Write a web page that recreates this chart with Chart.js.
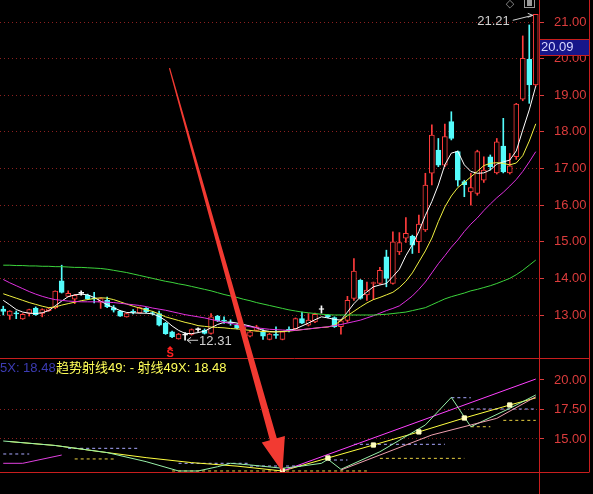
<!DOCTYPE html>
<html>
<head>
<meta charset="utf-8">
<script src="https://cdn.jsdelivr.net/npm/chart.js@4.4.1/dist/chart.umd.min.js"></script>
<style>
  html, body { margin: 0; padding: 0; background: #000; overflow: hidden; }
  #wrap { width: 593px; height: 494px; position: relative; }
  canvas { display: block; }
</style>
</head>
<body>
<div id="wrap"><canvas id="kline" width="593" height="494"></canvas></div>
<script>
// ---- daily bars (83 sessions) ----
const sessions = Array.from({ length: 83 }, (_, i) => 'D' + (i + 1));

const openPx = [
  13.16, 12.99, 13.06, 12.89, 13.04, 13.19, 13.04, 13.12, 13.19, 13.93,
  13.51, 13.43, 13.59, 13.54, 13.47, 13.35, 13.40, 13.20, 13.11, 12.95,
  13.10, 13.06, 13.18, 13.06, 13.04, 12.78, 12.54, 12.35, 12.45, 12.47,
  12.60, 12.58, 12.50, 12.97, 12.86, 12.79, 12.72, 12.62, 12.42, 12.58,
  12.54, 12.33, 12.47, 12.33, 12.61, 12.63, 12.90, 12.72, 12.81, 13.15,
  13.00, 12.93, 12.68, 12.85, 13.45, 13.95, 13.55, 13.86, 13.86, 14.59,
  13.86, 14.72, 15.10, 15.15, 15.00, 15.32, 16.87, 17.50, 17.09, 18.28,
  17.46, 16.64, 16.36, 16.32, 16.68, 17.32, 16.88, 17.61, 16.88, 17.32,
  18.89, 19.98, 19.28
];
const highPx = [
  13.24, 13.12, 13.11, 13.04, 13.16, 13.22, 13.17, 13.19, 13.66, 14.36,
  13.66, 13.56, 13.66, 13.57, 13.62, 13.47, 13.49, 13.26, 13.13, 13.06,
  13.15, 13.22, 13.20, 13.10, 13.11, 12.80, 12.56, 12.50, 12.52, 12.62,
  12.65, 12.62, 13.04, 12.99, 12.95, 12.87, 12.75, 12.72, 12.56, 12.72,
  12.60, 12.50, 12.68, 12.56, 12.68, 12.92, 13.08, 13.04, 13.05, 13.25,
  13.02, 12.95, 12.88, 13.51, 14.54, 13.97, 13.90, 13.90, 14.30, 14.77,
  15.27, 15.25, 15.66, 15.18, 15.73, 16.87, 18.19, 17.82, 18.21, 18.55,
  17.48, 16.68, 16.87, 17.50, 17.32, 17.37, 17.82, 18.37, 17.41, 18.78,
  20.62, 20.92, 21.21
];
const lowPx = [
  13.00, 12.88, 12.90, 12.88, 12.97, 12.99, 12.95, 13.10, 13.17, 13.60,
  13.50, 13.31, 13.54, 13.42, 13.33, 13.18, 13.20, 13.08, 12.96, 12.94,
  13.03, 13.05, 13.06, 13.00, 12.70, 12.47, 12.38, 12.34, 12.31, 12.45,
  12.55, 12.48, 12.48, 12.82, 12.77, 12.72, 12.62, 12.58, 12.40, 12.56,
  12.33, 12.32, 12.36, 12.32, 12.54, 12.61, 12.76, 12.70, 12.79, 13.05,
  12.92, 12.66, 12.48, 12.80, 13.40, 13.43, 13.40, 13.42, 13.84, 13.77,
  13.84, 14.65, 14.98, 14.68, 14.70, 15.28, 16.55, 17.05, 17.05, 17.78,
  16.52, 16.23, 16.00, 16.27, 16.62, 16.96, 16.85, 16.88, 16.85, 17.25,
  18.85, 18.78, 19.25
];
const closePx = [
  13.10, 13.11, 13.03, 13.02, 13.15, 13.01, 13.15, 13.17, 13.65, 13.62,
  13.59, 13.54, 13.59, 13.44, 13.44, 13.45, 13.22, 13.13, 12.97, 13.04,
  13.07, 13.20, 13.09, 13.04, 12.72, 12.49, 12.40, 12.48, 12.45, 12.60,
  12.60, 12.50, 12.95, 12.84, 12.83, 12.77, 12.64, 12.68, 12.54, 12.68,
  12.42, 12.48, 12.44, 12.54, 12.58, 12.90, 12.78, 12.86, 13.02, 13.15,
  12.95, 12.68, 12.84, 13.40, 14.20, 13.45, 13.68, 13.87, 14.22, 14.00,
  15.00, 14.98, 15.23, 14.91, 15.48, 16.55, 17.91, 17.09, 17.87, 17.82,
  16.68, 16.56, 16.48, 17.46, 16.96, 17.05, 17.73, 16.91, 17.07, 18.76,
  20.01, 19.28, 21.21
];

// ---- moving averages on the price pane ----
const ma5 = [
  13.40, 13.28, 13.15, 13.08, 13.05, 13.04, 13.06, 13.12, 13.25, 13.38,
  13.50, 13.55, 13.57, 13.55, 13.48, 13.38, 13.28, 13.20, 13.12, 13.07,
  13.06, 13.05, 13.05, 13.03, 12.96, 12.85, 12.70, 12.58, 12.50, 12.49,
  12.52, 12.56, 12.65, 12.74, 12.80, 12.81, 12.78, 12.74, 12.70, 12.65,
  12.58, 12.55, 12.54, 12.55, 12.58, 12.62, 12.70, 12.78, 12.87, 12.95,
  12.92, 12.88, 12.86, 13.08, 13.31, 13.49, 13.63, 13.77, 13.82, 13.86,
  14.05, 14.25, 14.62, 14.92, 15.28, 15.72, 16.10, 16.55, 17.10, 17.42,
  17.47, 17.10, 16.92, 16.87, 16.88, 16.96, 17.12, 17.18, 17.23, 17.48,
  18.05, 18.60, 19.25
];
const ma10 = [
  13.58, 13.52, 13.46, 13.40, 13.34, 13.29, 13.24, 13.20, 13.22, 13.27,
  13.31, 13.35, 13.39, 13.42, 13.45, 13.47, 13.46, 13.42, 13.36, 13.30,
  13.24, 13.19, 13.14, 13.10, 13.03, 12.95, 12.90, 12.85, 12.80, 12.76,
  12.71, 12.69, 12.67, 12.66, 12.65, 12.63, 12.62, 12.60, 12.58, 12.56,
  12.55, 12.54, 12.54, 12.55, 12.56, 12.58, 12.60, 12.62, 12.64, 12.66,
  12.67, 12.72, 12.85, 12.98, 13.10, 13.22, 13.33, 13.42, 13.48, 13.55,
  13.62, 13.75, 13.92, 14.15, 14.45, 14.75, 15.10, 15.55, 15.95, 16.25,
  16.48, 16.62, 16.77, 16.92, 17.08, 17.14, 17.16, 17.14, 17.10, 17.15,
  17.35, 17.75, 18.22
];
const ma20 = [
  13.97, 13.88, 13.80, 13.72, 13.64, 13.57, 13.51, 13.46, 13.42, 13.40,
  13.38, 13.37, 13.36, 13.36, 13.36, 13.36, 13.35, 13.34, 13.32, 13.30,
  13.28, 13.26, 13.23, 13.19, 13.16, 13.13, 13.09, 13.05, 13.01, 12.98,
  12.95, 12.92, 12.88, 12.84, 12.80, 12.77, 12.74, 12.71, 12.68, 12.65,
  12.63, 12.61, 12.60, 12.59, 12.58, 12.58, 12.60, 12.62, 12.64, 12.66,
  12.68, 12.71, 12.74, 12.78, 12.82, 12.86, 12.92, 12.98, 13.05, 13.12,
  13.18, 13.25, 13.38, 13.52, 13.70, 13.90, 14.15, 14.40, 14.62, 14.85,
  15.05, 15.28, 15.48, 15.65, 15.85, 16.03, 16.20, 16.35, 16.52, 16.70,
  16.92, 17.18, 17.46
];
const ma60 = [
  14.36, 14.36, 14.35, 14.35, 14.34, 14.34, 14.33, 14.33, 14.32, 14.32,
  14.31, 14.30, 14.30, 14.29, 14.28, 14.27, 14.25, 14.22, 14.19, 14.16,
  14.12, 14.08, 14.04, 14.00, 13.96, 13.92, 13.89, 13.85, 13.82, 13.78,
  13.74, 13.70, 13.66, 13.61, 13.56, 13.52, 13.48, 13.43, 13.39, 13.34,
  13.30, 13.26, 13.22, 13.18, 13.14, 13.11, 13.08, 13.06, 13.04, 13.02,
  13.01, 13.00, 13.00, 13.00, 13.00, 13.00, 13.00, 13.00, 13.01, 13.02,
  13.04, 13.06, 13.08, 13.12, 13.16, 13.20, 13.28, 13.36, 13.44, 13.50,
  13.55, 13.60, 13.66, 13.70, 13.75, 13.80, 13.86, 13.93, 14.00, 14.10,
  14.22, 14.36, 14.50
];

// ---- trend-ray indicator pane: sparse pivot values, [session index, value] ----
const ray49 = [[1, 14.78], [8, 14.45], [15, 13.92], [22, 13.42], [29, 13.00], [36, 12.70],
               [43, 12.29], [50, 13.39], [57, 14.49], [64, 15.60], [71, 16.78], [78, 17.88], [82, 18.48]];
const rayPivots = [[43, 12.29], [50, 13.39], [57, 14.49], [64, 15.60], [71, 16.78], [78, 17.88]];
const ray49X = [[43, 12.29], [82, 20.08]];
const fastTrace = [[0, 14.83], [8, 14.45], [16, 13.85], [22, 13.08], [27, 12.29], [30, 12.29],
                   [33, 12.65], [35, 12.94], [38, 12.80], [43, 12.52], [46, 12.71], [49, 12.94],
                   [50, 13.28], [52, 12.43], [58, 13.92], [65, 16.19], [69, 18.53], [72, 16.04],
                   [78, 17.60], [82, 18.73]];
const slowTrace = [[52, 12.37], [58, 13.64], [66, 15.34], [72, 16.19], [76, 16.75], [82, 18.58]];
const leftTrace = [[0, 12.94], [3, 12.94], [9, 13.64]];
// horizontal reference levels: [from, to, value]
const blueLevels = [[0, 4, 13.73], [10, 21, 14.21], [27, 38, 12.94], [38, 46, 12.71],
                    [50, 53, 13.22], [54, 68, 14.55], [69, 72, 18.50], [72, 82, 17.54]];
const yellowLevels = [[11, 17, 13.31], [26, 56, 12.29], [58, 71, 13.36], [72, 75, 16.04], [77, 82, 16.58]];

const priceTicks = [13, 14, 15, 16, 17, 18, 19, 20, 21];
const rayTicks = [15, 17.5, 20];
const lastPrice = 20.09;
const rayHeader = '趋势射线49: - 射线49X: 18.48';
const rayHeaderLead = '5X: 18.48';

// ---- styling ----
const FONT = '"Liberation Sans", Arial, "Noto Sans CJK SC", sans-serif';
const UP = '#ff3c3c', DOWN = '#54fcfc', FLAT = '#ffffff';
const AXIS_RED = '#dc3c3c', FRAME_RED = '#c81e1e', GRID_RED = '#8c2020';

const dirColor = i => closePx[i] > openPx[i] ? UP : (closePx[i] < openPx[i] ? DOWN : FLAT);

function sparse(points) {
  const arr = new Array(sessions.length).fill(null);
  points.forEach(([i, v]) => { arr[i] = v; });
  return arr;
}
function lineSet(data, color, axis, extra) {
  return Object.assign({
    type: 'line', data, yAxisID: axis, borderColor: color, borderWidth: 1,
    pointRadius: 0, tension: 0, spanGaps: true, order: 0
  }, extra || {});
}

const datasets = [
  {
    type: 'bar', label: 'wick', yAxisID: 'y', order: 3, grouped: false,
    data: sessions.map((_, i) => [lowPx[i], highPx[i]]),
    backgroundColor: sessions.map((_, i) => dirColor(i)),
    barThickness: 1, borderWidth: 0, minBarLength: 1
  },
  {
    type: 'bar', label: 'body', yAxisID: 'y', order: 2, grouped: false,
    data: sessions.map((_, i) => [openPx[i], closePx[i]]),
    backgroundColor: sessions.map((_, i) => dirColor(i) === UP ? '#000000' : dirColor(i)),
    borderColor: sessions.map((_, i) => dirColor(i)),
    borderWidth: 1, borderSkipped: false, barThickness: 5, minBarLength: 1
  },
  lineSet(ma60, '#3cd43c', 'y'),
  lineSet(ma20, '#e030e0', 'y'),
  lineSet(ma10, '#f0f040', 'y'),
  lineSet(ma5, '#ffffff', 'y'),
  lineSet(sparse(leftTrace), '#e040e0', 'y2'),
  lineSet(sparse(slowTrace), '#f0a0b0', 'y2'),
  lineSet(sparse(fastTrace), '#98f0a8', 'y2'),
  lineSet(sparse(ray49X), '#ff40ff', 'y2'),
  lineSet(sparse(ray49), '#ffff40', 'y2'),
  lineSet(sparse(rayPivots), '#ffffb0', 'y2', {
    showLine: false, pointStyle: 'rect', pointRadius: 3,
    pointBackgroundColor: '#ffffc0', pointBorderColor: '#ffffc0', order: -1
  })
];
blueLevels.forEach(([a, b, v]) => datasets.push(
  lineSet(sparse([[a, v], [b, v]]), '#a8a8ff', 'y2', { borderDash: [3, 3], order: 1 })));
yellowLevels.forEach(([a, b, v]) => datasets.push(
  lineSet(sparse([[a, v], [b, v]]), '#e8d040', 'y2', { borderDash: [3, 3], order: 1 })));

// frame, price tag, annotations and the pointer arrow
const decorations = {
  id: 'decorations',
  afterDraw(chart) {
    const { ctx, chartArea: area, scales } = chart;
    const x = scales.x, y = scales.y, y2 = scales.y2;
    const W = chart.width, H = chart.height;
    ctx.save();

    // panel frame
    ctx.strokeStyle = FRAME_RED;
    ctx.lineWidth = 1;
    ctx.beginPath();
    ctx.moveTo(0, Math.round(y.bottom) + 0.5); ctx.lineTo(W - 4, Math.round(y.bottom) + 0.5);
    ctx.moveTo(0, Math.round(y2.bottom) + 0.5); ctx.lineTo(W - 4, Math.round(y2.bottom) + 0.5);
    ctx.moveTo(Math.round(area.right) + 0.5, 0); ctx.lineTo(Math.round(area.right) + 0.5, H);
    ctx.moveTo(W - 3.5, 0); ctx.lineTo(W - 3.5, Math.round(y2.bottom) + 0.5);
    ctx.stroke();

    // last price tag
    const py = y.getPixelForValue(lastPrice);
    ctx.fillStyle = '#16168a';
    ctx.fillRect(area.right + 1, py - 16, W - 4 - area.right - 1, 16);
    ctx.strokeStyle = FRAME_RED;
    ctx.beginPath();
    ctx.moveTo(area.right, Math.round(py - 16) + 0.5); ctx.lineTo(W - 3, Math.round(py - 16) + 0.5);
    ctx.moveTo(area.right, Math.round(py) + 0.5); ctx.lineTo(W - 3, Math.round(py) + 0.5);
    ctx.stroke();
    ctx.fillStyle = '#d8d8ff';
    ctx.font = '13px ' + FONT;
    ctx.textBaseline = 'middle';
    ctx.textAlign = 'left';
    ctx.fillText(lastPrice.toFixed(2), area.right + 2, py - 7.5);

    // high / low notes
    const hiIdx = highPx.indexOf(Math.max(...highPx));
    const loIdx = lowPx.indexOf(Math.min(...lowPx));
    ctx.strokeStyle = '#d0d0d0';
    ctx.fillStyle = '#d0d0d0';
    const hx = x.getPixelForValue(hiIdx), hy = y.getPixelForValue(highPx[hiIdx]);
    ctx.beginPath();
    ctx.moveTo(hx - 23, hy + 6); ctx.lineTo(hx - 3, hy + 1);
    ctx.moveTo(hx - 3, hy + 1); ctx.lineTo(hx - 8, hy - 1);
    ctx.moveTo(hx - 3, hy + 1); ctx.lineTo(hx - 8, hy + 3);
    ctx.stroke();
    ctx.textAlign = 'right';
    ctx.fillText(highPx[hiIdx].toFixed(2), hx - 26, hy + 7);

    const lx = x.getPixelForValue(loIdx), ly = y.getPixelForValue(lowPx[loIdx]);
    ctx.beginPath();
    ctx.moveTo(lx + 2, ly); ctx.lineTo(lx + 13, ly);
    ctx.moveTo(lx + 2, ly); ctx.lineTo(lx + 6, ly - 3);
    ctx.moveTo(lx + 2, ly); ctx.lineTo(lx + 6, ly + 3);
    ctx.stroke();
    ctx.textAlign = 'left';
    ctx.fillText(lowPx[loIdx].toFixed(2), lx + 14, ly + 1);

    // sell marker under the breakdown bar
    const sx = x.getPixelForValue(26);
    ctx.fillStyle = '#ff2020';
    ctx.font = 'bold 11px ' + FONT;
    ctx.textAlign = 'center';
    ctx.textBaseline = 'alphabetic';
    ctx.fillText('S', sx - 2, y.bottom - 1);
    ctx.beginPath();
    ctx.moveTo(sx - 2, y.bottom - 12); ctx.lineTo(sx - 5, y.bottom - 9); ctx.lineTo(sx + 1, y.bottom - 9);
    ctx.closePath(); ctx.fill();

    // toolbar glyphs
    ctx.fillStyle = '#9a9a9a';
    ctx.strokeStyle = '#9a9a9a';
    ctx.font = '11px "DejaVu Sans", sans-serif';
    ctx.textAlign = 'center';
    ctx.textBaseline = 'middle';
    ctx.fillText('◇', 510, 4);
    ctx.strokeRect(524.5, -2.5, 10, 10);
    ctx.fillRect(527, 0, 5, 6);

    // indicator header
    ctx.font = '13px ' + FONT;
    ctx.textAlign = 'left';
    ctx.textBaseline = 'middle';
    ctx.fillStyle = '#3c3cb4';
    ctx.fillText(rayHeaderLead, 0, y.bottom + 10);
    ctx.fillStyle = '#ffff58';
    ctx.fillText(rayHeader, 56, y.bottom + 10);

    // pointer arrow: from the price pane down to the ray pivot
    const s = { x: x.getPixelForValue(25.6), y: y.getPixelForValue(19.74) };
    const t = { x: x.getPixelForValue(ray49X[0][0]), y: y2.getPixelForValue(ray49X[0][1]) + 1 };
    const dx = t.x - s.x, dy = t.y - s.y, len = Math.hypot(dx, dy);
    const ux = dx / len, uy = dy / len, nx = -uy, ny = ux;
    const headLen = 34, headHalf = 12;
    const bx = t.x - ux * headLen, by = t.y - uy * headLen;
    ctx.fillStyle = '#f23a32';
    ctx.beginPath();
    ctx.moveTo(s.x + nx * 0.6, s.y + ny * 0.6);
    ctx.lineTo(bx + nx * 3.6, by + ny * 3.6);
    ctx.lineTo(bx + nx * headHalf, by + ny * headHalf);
    ctx.lineTo(t.x, t.y);
    ctx.lineTo(bx - nx * headHalf, by - ny * headHalf);
    ctx.lineTo(bx - nx * 3.6, by - ny * 3.6);
    ctx.lineTo(s.x - nx * 0.6, s.y - ny * 0.6);
    ctx.closePath();
    ctx.fill();

    ctx.restore();
  }
};

const tickFont = { size: 13, family: FONT };

new Chart(document.getElementById('kline'), {
  data: { labels: sessions, datasets },
  options: {
    responsive: false,
    animation: false,
    devicePixelRatio: 1,
    layout: { autoPadding: false, padding: { left: 0, right: 0, top: 0, bottom: 22 } },
    plugins: { legend: { display: false }, tooltip: { enabled: false } },
    scales: {
      x: { type: 'category', display: false, offset: true, grid: { display: false } },
      y: {
        type: 'linear', position: 'right', stack: 'panes', stackWeight: 358,
        min: 11.826, max: 21.601,
        afterBuildTicks: s => { s.ticks = priceTicks.map(v => ({ value: v })); },
        afterFit: s => { s.width = 54; s.paddingTop = 0; s.paddingBottom = 0; },
        grid: { color: GRID_RED, lineWidth: 1, tickColor: AXIS_RED, tickLength: 5, tickBorderDash: [] },
        border: { display: false, dash: [1, 3] },
        ticks: { color: AXIS_RED, font: tickFont, padding: 10, callback: v => Number(v).toFixed(2) }
      },
      y2: {
        type: 'linear', position: 'right', stack: 'panes', stackWeight: 114,
        min: 12.203, max: 21.864,
        afterBuildTicks: s => { s.ticks = rayTicks.map(v => ({ value: v })); },
        afterFit: s => { s.width = 54; s.paddingTop = 0; s.paddingBottom = 0; },
        grid: {
          color: c => (c.tick && c.tick.value >= 20) ? 'rgba(0,0,0,0)' : GRID_RED,
          lineWidth: 1, tickColor: AXIS_RED, tickLength: 5, tickBorderDash: []
        },
        border: { display: false, dash: [1, 3] },
        ticks: { color: AXIS_RED, font: tickFont, padding: 10, callback: v => Number(v).toFixed(2) }
      }
    }
  },
  plugins: [decorations]
});
</script>
</body>
</html>
